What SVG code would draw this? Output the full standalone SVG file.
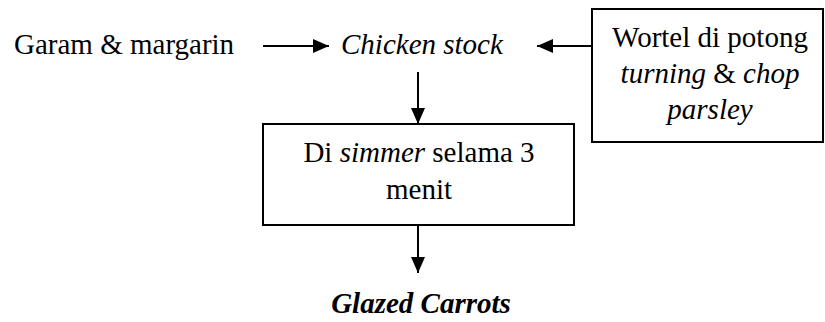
<svg xmlns="http://www.w3.org/2000/svg" width="825" height="322" viewBox="0 0 825 322">
  <defs>
    <marker id="arrow" viewBox="0 0 16 14" refX="16" refY="7" markerWidth="16" markerHeight="14" markerUnits="userSpaceOnUse" orient="auto">
      <path d="M0,0 L16,7 L0,14 Z" fill="#000"/>
    </marker>
    <style>
      .it { font-style: italic; }
      .bi { font-style: italic; font-weight: bold; }
      .box { fill: #fff; stroke: #000; stroke-width: 2; }
      .link { fill: none; stroke: #000; stroke-width: 2; marker-end: url(#arrow); }
    </style>
  </defs>
  <rect width="825" height="322" fill="#fff"/>

  <g id="connectors">
    <line class="link" x1="263" y1="46" x2="329" y2="46"/>
    <line class="link" x1="592" y1="46" x2="537" y2="46"/>
    <line class="link" x1="418" y1="72" x2="418" y2="124"/>
    <line class="link" x1="418" y1="225" x2="418" y2="273"/>
  </g>

  <g font-family="'Times New Roman', 'Liberation Serif', 'DejaVu Serif', serif" font-size="29" fill="#000">
    <g id="garam">
      <text x="14" y="54">Garam &amp; margarin</text>
    </g>

    <g id="stock">
      <text class="it" x="341" y="54">Chicken stock</text>
    </g>

    <g id="wortel">
      <rect class="box" x="592" y="9" width="231" height="133"/>
      <text x="710" y="47" text-anchor="middle">Wortel di potong</text>
      <text x="710" y="83" text-anchor="middle"><tspan class="it">turning</tspan> &amp; <tspan class="it">chop</tspan></text>
      <text class="it" x="710" y="119" text-anchor="middle">parsley</text>
    </g>

    <g id="simmer">
      <rect class="box" x="263" y="124" width="311" height="101"/>
      <text x="419" y="162" text-anchor="middle">Di <tspan class="it">simmer</tspan> selama 3</text>
      <text x="419" y="199" text-anchor="middle">menit</text>
    </g>

    <g id="result">
      <text class="bi" x="421" y="313" text-anchor="middle">Glazed Carrots</text>
    </g>
  </g>
</svg>
